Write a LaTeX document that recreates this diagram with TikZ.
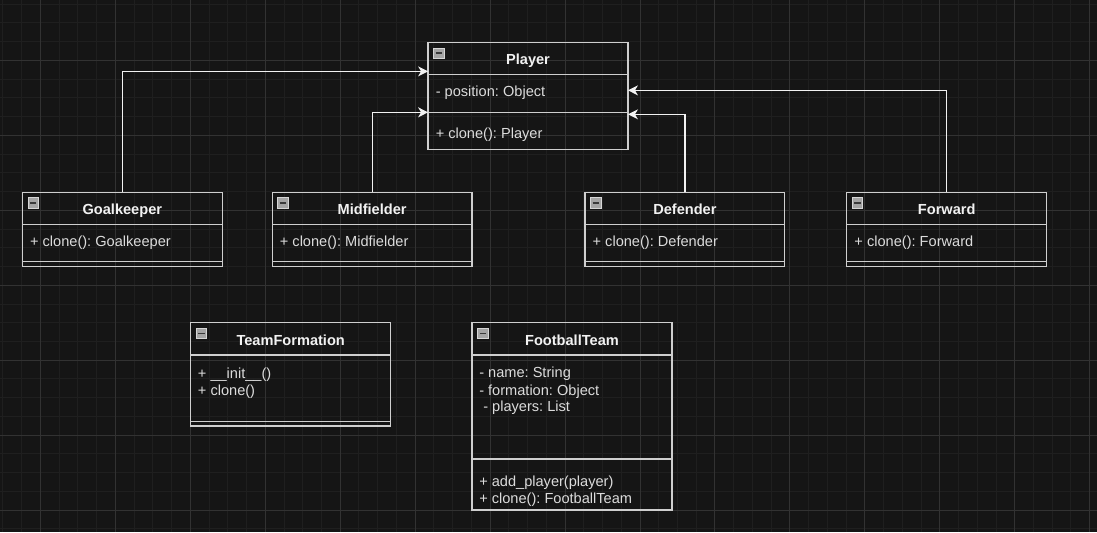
\documentclass[tikz,border=0pt]{standalone}
\usepackage{fontspec}
\setmainfont{Liberation Sans}
\frenchspacing
\usetikzlibrary{arrows.meta}
\definecolor{canvas}{HTML}{151515}
\definecolor{gridminor}{HTML}{1F1F1F}
\definecolor{gridmajor}{HTML}{323232}
\definecolor{edge}{HTML}{CFCFCF}
\definecolor{ink}{HTML}{F2F2F2}
\definecolor{inkdim}{HTML}{DCDCDC}
\definecolor{iconfill}{HTML}{A4A4A4}
\definecolor{iconedge}{HTML}{D6D6D6}
\definecolor{iconbar}{HTML}{3A3A3A}
\tikzset{box/.style={draw=edge, line width=1.3pt, inner sep=0pt, outer sep=0pt, anchor=north west}}
\tikzset{sep/.style={draw=edge, line width=1.3pt}}
\tikzset{title/.style={text=ink, font=\fontsize{14.6}{17}\selectfont\bfseries, anchor=base, inner sep=0pt}}
\tikzset{member/.style={text=inkdim, font=\fontsize{14.6}{17}\selectfont, anchor=base west, inner sep=0pt}}
\tikzset{icon/.style={draw=iconedge, fill=iconfill, line width=0.8pt, minimum size=10.5pt, inner sep=0pt,
  path picture={\draw[iconbar, line width=1.6pt] ([xshift=2pt]path picture bounding box.west) -- ([xshift=-2pt]path picture bounding box.east);}}}
\tikzset{inherit/.style={color=ink, line width=1.2pt, -{Stealth[length=10pt, width=10pt, inset=3pt]}}}

\begin{document}
\begin{tikzpicture}[x=1pt, y=-1pt]
% canvas and grid
\fill[canvas] (0,0) rectangle (1097,532);
\foreach \gx in {0,...,58} \draw[gridminor, line width=0.8pt] (2.5+18.75*\gx,0) -- (2.5+18.75*\gx,532);
\foreach \gy in {0,...,28} \draw[gridminor, line width=0.8pt] (0,3.75+18.75*\gy) -- (1097,3.75+18.75*\gy);
\foreach \gx in {0,...,14} \draw[gridmajor, line width=0.8pt] (40+75*\gx,0) -- (40+75*\gx,532);
\foreach \gy in {0,...,6} \draw[gridmajor, line width=0.8pt] (0,60+75*\gy) -- (1097,60+75*\gy);

% Player
\node[box, minimum width=200pt, minimum height=107pt] (player) at (428,42) {};
\node[icon] at (438.8,52.8) {};
\node[title] at (528,64.3) {Player};
\draw[sep] (428,74.5) -- (628,74.5);
\node[member] at (435.5,96) {- position: Object};
\draw[sep] (428,112) -- (628,112);
\node[member] at (435.5,138.5) {+ clone(): Player};

% Goalkeeper
\node[box, minimum width=200pt, minimum height=74pt] (goalkeeper) at (22,192) {};
\node[icon] at (32.8,202.8) {};
\node[title] at (122,214) {Goalkeeper};
\draw[sep] (22,224.5) -- (222,224.5);
\node[member] at (29.5,246) {+ clone(): Goalkeeper};
\draw[sep] (22,261.5) -- (222,261.5);

% Midfielder
\node[box, minimum width=200pt, minimum height=74pt] (midfielder) at (272,192) {};
\node[icon] at (282.8,202.8) {};
\node[title] at (372,214) {Midfielder};
\draw[sep] (272,224.5) -- (472,224.5);
\node[member] at (279.5,246) {+ clone(): Midfielder};
\draw[sep] (272,261.5) -- (472,261.5);

% Defender
\node[box, minimum width=200pt, minimum height=74pt] (defender) at (585,192) {};
\node[icon] at (595.8,202.8) {};
\node[title] at (685,214) {Defender};
\draw[sep] (585,224.5) -- (785,224.5);
\node[member] at (592.5,246) {+ clone(): Defender};
\draw[sep] (585,261.5) -- (785,261.5);

% Forward
\node[box, minimum width=200pt, minimum height=74pt] (forward) at (847,192) {};
\node[icon] at (857.8,202.8) {};
\node[title] at (947,214) {Forward};
\draw[sep] (847,224.5) -- (1047,224.5);
\node[member] at (854.5,246) {+ clone(): Forward};
\draw[sep] (847,261.5) -- (1047,261.5);

% TeamFormation
\node[box, minimum width=200pt, minimum height=103.5pt] (teamformation) at (190.5,322.5) {};
\node[icon] at (201.3,333.3) {};
\node[title] at (290.5,345) {TeamFormation};
\draw[sep] (190.5,355) -- (390.5,355);
\node[member] at (197.5,378.3) {+ \_\_init\_\_()};
\node[member] at (197.5,395) {+ clone()};
\draw[sep] (190.5,421.5) -- (390.5,421.5);

% FootballTeam
\node[box, minimum width=200pt, minimum height=187.5pt] (footballteam) at (472,322.5) {};
\node[icon] at (482.8,333.3) {};
\node[title] at (572,345) {FootballTeam};
\draw[sep] (472,355) -- (672,355);
\node[member] at (479,377.3) {- name: String};
\node[member] at (479,395) {- formation: Object};
\node[member] at (479,411.7) {\ - players: List};
\draw[sep] (472,459) -- (672,459);
\node[member] at (479,486) {+ add\_player(player)};
\node[member] at (479,503.3) {+ clone(): FootballTeam};

% inheritance
\draw[inherit] (goalkeeper.north) |- ([yshift=24.5pt]player.west);
\draw[inherit] (midfielder.north) |- ([yshift=-16.5pt]player.west);
\draw[inherit] (defender.north) |- ([yshift=-18.5pt]player.east);
\draw[inherit] (forward.north) |- ([yshift=5.5pt]player.east);
\end{tikzpicture}
\end{document}
